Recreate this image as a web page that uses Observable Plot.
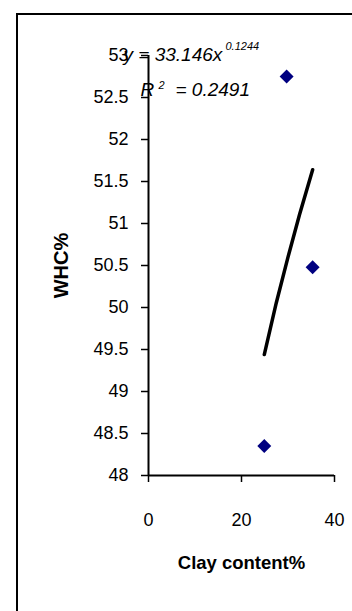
<!DOCTYPE html>
<html><head><meta charset="utf-8">
<script src="https://cdn.jsdelivr.net/npm/d3@7"></script>
<script src="https://cdn.jsdelivr.net/npm/@observablehq/plot@0.6"></script>
<style>
html,body{margin:0;padding:0;background:#fff;overflow:hidden;}
#wrap{position:relative;width:352px;height:611px;overflow:hidden;background:#fff;}
#border{position:absolute;left:16px;top:13px;width:400px;height:700px;border:2px solid #000;pointer-events:none;}
#chart{position:absolute;left:0;top:0;}
</style></head><body>
<div id="wrap"><div id="chart"></div><div id="border"></div></div>
<script>
const clay = [29.7, 35.3, 24.9];
const whc = [52.75, 50.48, 48.35];
const trendClay = [24.9, 27.5, 30, 32.5, 35.3];
const trendWhc = [49.44, 50.06, 50.60, 51.11, 51.64];
const xTicks = [0, 20, 40];
const yTicks = [48, 48.5, 49, 49.5, 50, 50.5, 51, 51.5, 52, 52.5, 53];
const xTitle = "Clay content%";
const yTitle = "WHC%";
const eqMain = "y = 33.146x";
const eqExp = "0.1244";
const r2Main = "R";
const r2Exp = "2";
const r2Val = "= 0.2491";

const points = clay.map((c, i) => ({clay: c, whc: whc[i]}));
const trend = trendClay.map((c, i) => ({clay: c, whc: trendWhc[i]}));
const font = "'Liberation Sans', Arial, sans-serif";

const chart = Plot.plot({
  width: 352,
  height: 611,
  marginLeft: 148,
  marginRight: 18,
  marginTop: 55,
  marginBottom: 136,
  style: {fontFamily: font, fontSize: "18px", color: "#000", background: "transparent"},
  x: {domain: [0, 40]},
  y: {domain: [48, 53]},
  marks: [
    Plot.axisY({ticks: yTicks, tickSize: 7, tickPadding: 13, fontSize: 18, tickFormat: d => String(d), label: null, strokeWidth: 1.5, stroke: "#000", fill: "#000"}),
    Plot.axisX({ticks: xTicks, tickSize: 7, tickPadding: 31, fontSize: 18, tickFormat: d => String(d), label: null, strokeWidth: 1.5, stroke: "#000", fill: "#000"}),
    Plot.ruleX([0], {stroke: "#000", strokeWidth: 2}),
    Plot.ruleY([48], {stroke: "#000", strokeWidth: 2}),
    Plot.line(trend, {x: "clay", y: "whc", stroke: "#000", strokeWidth: 3.5, strokeLinecap: "round"}),
    Plot.dot(points, {x: "clay", y: "whc", symbol: "diamond2", r: 6.3, fill: "#000080", stroke: "none"}),
    Plot.text([yTitle], {text: d => d, frameAnchor: "left", dx: -87, rotate: -90, textAnchor: "middle", lineAnchor: "middle", fontWeight: "bold", fontSize: 20, fill: "#000"}),
    Plot.text([xTitle], {text: d => d, frameAnchor: "bottom", dy: 88, textAnchor: "middle", lineAnchor: "middle", fontWeight: "bold", fontSize: 18.5, fill: "#000"}),
    Plot.text([eqMain], {text: d => d, frameAnchor: "top-left", dx: -25, dy: 5, textAnchor: "start", lineAnchor: "bottom", fontStyle: "italic", fontSize: 19, fill: "#000"}),
    Plot.text([eqExp], {text: d => d, frameAnchor: "top-left", dx: 77, dy: -6, textAnchor: "start", lineAnchor: "bottom", fontStyle: "italic", fontSize: 11, fill: "#000"}),
    Plot.text([r2Main], {text: d => d, frameAnchor: "top-left", dx: -8, dy: 40, textAnchor: "start", lineAnchor: "bottom", fontStyle: "italic", fontSize: 19, fill: "#000"}),
    Plot.text([r2Exp], {text: d => d, frameAnchor: "top-left", dx: 10, dy: 33, textAnchor: "start", lineAnchor: "bottom", fontStyle: "italic", fontSize: 11, fill: "#000"}),
    Plot.text([r2Val], {text: d => d, frameAnchor: "top-left", dx: 27, dy: 40, textAnchor: "start", lineAnchor: "bottom", fontStyle: "italic", fontSize: 19, fill: "#000"})
  ]
});
document.getElementById("chart").appendChild(chart);
</script>
</body></html>
